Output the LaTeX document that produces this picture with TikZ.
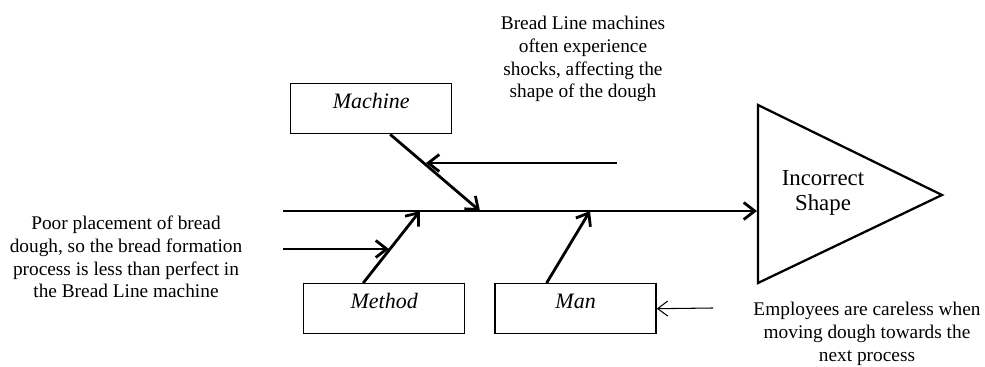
\documentclass[tikz,border=0pt]{standalone}
\usepackage{fontspec}
\setmainfont{Liberation Serif}
\usetikzlibrary{arrows.meta, positioning}

\begin{document}
\begin{tikzpicture}[x=0.2mm, y=-0.2mm,
        bone/.style={line width=1.6pt, -{Straight Barb[length=2.2mm, width=3.4mm]}},
        catbox/.style={draw, line width=0.8pt, minimum width=32.2mm, minimum height=10mm,
            text height=2.9mm, text depth=2.8mm, font=\fontsize{12.5}{14}\selectfont\itshape},
        note/.style={align=center, font=\fontsize{11}{13}\selectfont}]
                \useasboundingbox (0,0) rectangle (985,367);
                % head of the fish
                \draw[line width=1.3pt] (758,105) -- (942,195) -- (758,283) -- cycle;
                \node[align=center, font=\fontsize{13}{14.5}\selectfont] (effect) at (823,193) {Incorrect\\Shape};
                \coordinate (tail) at (283,211);
                \coordinate (head) at (757,211);
                \draw[bone] (tail) -- (head);
                % categories
                \node[catbox, anchor=north west] (machine) at (290,83) {Machine};
                \node[catbox, anchor=north west] (method) at (303,283) {Method};
                \node[catbox, right=5.8mm of method] (man) {Man};
                \coordinate (jmachine) at (480,211);
                \coordinate (jmethod) at (420,211);
                \coordinate (jman) at (590,211);
                \draw[bone] ([xshift=3.8mm]machine.south) -- (jmachine);
                \draw[bone] ([xshift=-4.2mm]method.north) -- (jmethod);
                \draw[bone] ([xshift=-5.8mm]man.north) -- (jman);
                % causes
                \coordinate (cmachine) at (617,163);
                \coordinate (onmachine) at (426,163);
                \coordinate (cmethod) at (283,249);
                \coordinate (onmethod) at (389,249);
                \coordinate (cman) at (713,308);
                \draw[bone] (cmachine) -- (onmachine);
                \draw[bone] (cmethod) -- (onmethod);
                \draw[line width=0.6pt, -{Straight Barb[length=2mm, width=3mm]}] (cman) -- (man.east);
                \node[note] (machinenote) at (583,59) {Bread Line machines\\often experience\\shocks, affecting the\\shape of the dough};
                \node[note] (methodnote) at (126,257) {Poor placement of bread\\dough, so the bread formation\\process is less than perfect in\\the Bread Line machine};
                \node[note] (mannote) at (867,334) {Employees are careless when\\moving dough towards the\\next process};
            \end{tikzpicture}
\end{document}
